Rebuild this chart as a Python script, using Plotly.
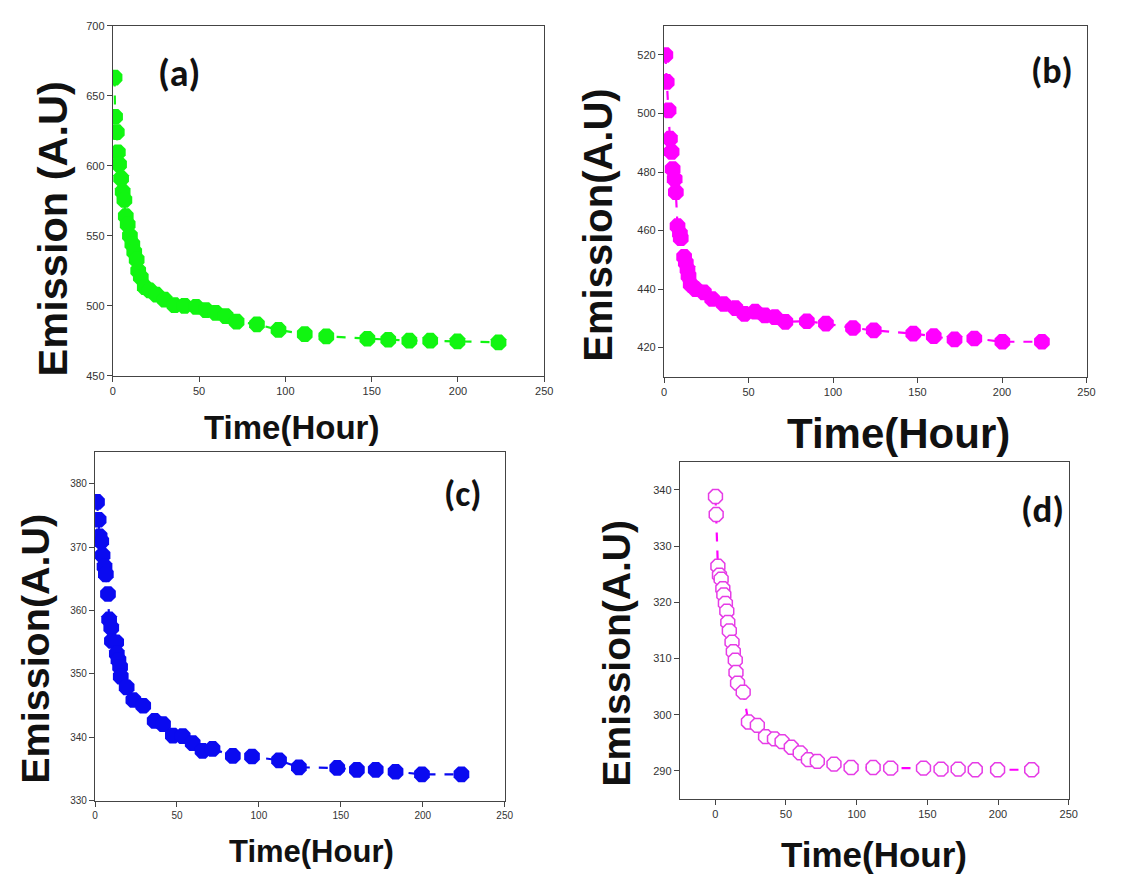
import plotly.graph_objects as go

W, H = 1147, 876

# ---------------- data ----------------
time_a = [1, 1.3, 2.3, 2.9, 3.6, 4.8, 5.7, 6.7, 7.5, 8.6, 9.9, 11.3, 12.4, 13.8, 14.7, 16.2,
          18.5, 21.4, 25.2, 30, 35.7, 41.5, 48.2, 53.9, 59.6, 65.4, 71.7, 83.5, 96, 111.2,
          123.7, 147.5, 159.6, 171.8, 183.9, 199.7, 223.5]
emis_a = [663, 635, 624, 609.6, 601, 591, 581.5, 575.6, 564, 558, 550, 544, 538.5, 533, 525, 520.4,
          513.4, 511, 508, 504.4, 500.5, 500, 499.3, 497, 495, 492.7, 488.7, 486.8, 482.8, 479.8,
          478.2, 476.5, 475.8, 475.1, 475.1, 474.6, 473.9]

time_b = [0.8, 1.6, 2.7, 3.5, 4.5, 5.1, 6.3, 7, 8, 9.4, 9.9, 11.9, 12.9, 13.9, 14.5, 15.8,
          18.7, 23.6, 28.5, 35.3, 42.2, 47.6, 53.9, 59.7, 65.6, 71.8, 84.5, 95.8, 111.8,
          124.1, 147.5, 159.6, 171.9, 183.6, 200.2, 223.6]
emis_b = [520, 510.8, 501.1, 491.4, 486.9, 481, 477.6, 473.1, 461.5, 459, 457.4, 451, 449, 446.7,
          444.5, 441.6, 440, 438.9, 436.6, 434.9, 433.5, 431.5, 432.3, 431, 430.4, 428.8, 429,
          428.2, 426.7, 425.9, 424.8, 423.9, 422.8, 423.1, 422, 422]

time_c = [1.2, 2.2, 2.8, 3.8, 4.6, 5.8, 6.6, 7.9, 8.6, 9.9, 10.3, 12.9, 13.3, 14.3, 15.3, 15.7,
          19.3, 23.4, 29.4, 36.4, 41.5, 47.5, 53.5, 59.6, 65.6, 71.7, 84.1, 95.8, 112.3, 124.4,
          147.8, 159.8, 171.3, 183.4, 199.5, 223.6]
emis_c = [377.1, 374.3, 371.7, 370.9, 368.7, 366.9, 365.7, 362.6, 358.6, 357.3, 355.2, 355, 353.2,
          352.2, 351.1, 349.6, 347.9, 345.9, 345, 342.6, 342.1, 340.3, 340.2, 339.1, 337.9, 338.2,
          337.1, 337, 336.4, 335.3, 335.2, 334.9, 334.9, 334.6, 334.2, 334.2]

time_d = [0.2, 0.7, 1.9, 3, 4.2, 5.4, 6.1, 7.2, 8.2, 8.9, 10, 11.9, 12.8, 14.2, 14.7, 15.8,
          19.8, 23.5, 29.8, 35.6, 41.9, 47.3, 53.8, 60.1, 65.9, 72.2, 84, 96.1, 111.7, 124.1,
          147.3, 159.7, 171.8, 183.9, 199.7, 223.8]
emis_d = [338.8, 335.6, 326.4, 324.8, 324.1, 322.4, 321.3, 319.8, 318.4, 316.4, 314.9, 312.9,
          311.2, 309.7, 307.5, 305.6, 304, 298.7, 298.1, 296.1, 295.7, 295.2, 294.2, 293.2, 292,
          291.7, 291.2, 290.6, 290.6, 290.5, 290.5, 290.3, 290.3, 290.2, 290.2, 290.2]

panel_labels = ["(a)", "(b)", "(c)", "(d)"]
y_titles = ["Emission (A.U)", "Emission(A.U)", "Emission(A.U)", "Emission(A.U)"]
x_title = "Time(Hour)"

x_ticks = [0, 50, 100, 150, 200, 250]
y_ticks_a = [450, 500, 550, 600, 650, 700]
y_ticks_b = [420, 440, 460, 480, 500, 520]
y_ticks_c = [330, 340, 350, 360, 370, 380]
y_ticks_d = [290, 300, 310, 320, 330, 340]

# ---------------- layout helpers ----------------
def px_x(p):
    return p / W

def px_y(p):
    return 1 - p / H

# panel boxes in pixels: left, right, top, bottom
boxes = [
    (111, 547, 20, 375),
    (668, 1095, 20, 376),
    (93, 507, 452, 806),
    (684, 1077, 462, 804),
]
x_ranges = [[0, 250], [0, 250], [0, 250], [-25, 250]]
y_ranges = [[450, 700], [410, 530], [330, 385], [285, 345]]
y_ticks = [y_ticks_a, y_ticks_b, y_ticks_c, y_ticks_d]

series = [
    (time_a, emis_a, "#11F511"),
    (time_b, emis_b, "#FF00FF"),
    (time_c, emis_c, "#0A0AF0"),
    (time_d, emis_d, "#E63CE6"),
]

fig = go.Figure()
layout = dict(
    width=W, height=H,
    margin=dict(l=0, r=0, t=0, b=0),
    paper_bgcolor="white", plot_bgcolor="white",
    showlegend=False,
    font=dict(family="Liberation Sans, Arial, sans-serif", color="#222"),
)

tick_sizes = [11, 11, 10, 11]
for i, ((tx, ty, col), box) in enumerate(zip(series, boxes)):
    n = "" if i == 0 else str(i + 1)
    xa, ya = "x" + n, "y" + n
    if i == 3:
        line_col = "#FF00FF"
        mk = dict(symbol="octagon", size=15, color="white", line=dict(width=1.5, color=col))
    else:
        line_col = col
        mk = dict(symbol="octagon", size=17, color=col)
    fig.add_trace(go.Scatter(
        x=tx, y=ty, mode="lines+markers", xaxis=xa, yaxis=ya,
        line=dict(color=line_col, width=2.2, dash="dash"),
        marker=mk,
    ))
    l, r, t, b = box
    axis_common = dict(showline=True, mirror=True, linecolor="#444", linewidth=1.2,
                       ticks="outside", ticklen=5, tickcolor="#444", tickwidth=1,
                       showgrid=False, zeroline=False,
                       tickfont=dict(size=tick_sizes[i], color="#333"))
    layout["xaxis" + n] = dict(domain=[px_x(l), px_x(r)], range=x_ranges[i],
                               tickvals=x_ticks, anchor=ya, **axis_common)
    layout["yaxis" + n] = dict(domain=[px_y(b), px_y(t)], range=y_ranges[i],
                               tickvals=y_ticks[i], anchor=xa, **axis_common)

fig.update_layout(**layout)

# panel labels
label_pos = [(178, 68, 38), (1060, 66, 36), (465, 495, 36), (1050, 510, 37)]
for lab, (x, y, s) in zip(panel_labels, label_pos):
    fig.add_annotation(x=px_x(x), y=px_y(y), xref="paper", yref="paper", text="<b>%s</b>" % lab,
                       showarrow=False, xanchor="center", yanchor="middle",
                       font=dict(size=s, family="Carlito, Calibri, Open Sans, sans-serif", color="#111"))

# y titles
ytitle_pos = [(50, 226, 41.5), (601, 222, 40), (32, 652, 39.5), (619, 656, 39)]
for txt, (x, y, s) in zip(y_titles, ytitle_pos):
    fig.add_annotation(x=px_x(x), y=px_y(y), xref="paper", yref="paper", text="<b>%s</b>" % txt,
                       showarrow=False, textangle=-90, xanchor="center", yanchor="middle",
                       font=dict(size=s, family="Liberation Sans, Arial, sans-serif", color="#111"))

# x titles
xtitle_pos = [(292, 427, 33), (905, 433, 42), (312, 857, 31), (880, 860, 35)]
for (x, y, s) in xtitle_pos:
    fig.add_annotation(x=px_x(x), y=px_y(y), xref="paper", yref="paper", text="<b>%s</b>" % x_title,
                       showarrow=False, xanchor="center", yanchor="middle",
                       font=dict(size=s, family="Liberation Sans, Arial, sans-serif", color="#111"))

fig.write_html("out.html")
